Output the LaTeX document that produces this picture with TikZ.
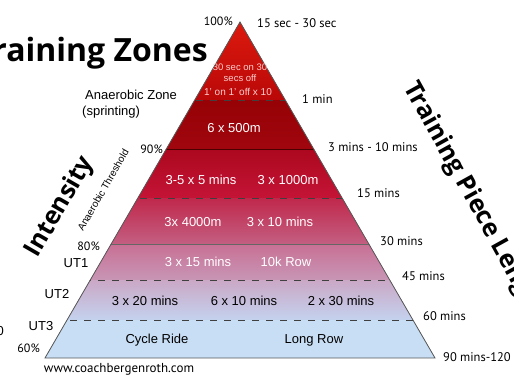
\documentclass[tikz,border=0pt]{standalone}
\usepackage{fontspec}
\setmainfont{Liberation Sans}
\newfontfamily\myriad{PT Sans}
\newfontfamily\headfont{Open Sans}

\definecolor{bandAtop}{RGB}{220,26,14}
\definecolor{bandAbot}{RGB}{185,8,8}
\definecolor{bandBtop}{RGB}{150,2,6}
\definecolor{bandBbot}{RGB}{160,6,14}
\definecolor{bandCtop}{RGB}{172,8,30}
\definecolor{bandCbot}{RGB}{196,20,55}
\definecolor{bandDtop}{RGB}{192,40,75}
\definecolor{bandDbot}{RGB}{195,95,130}
\definecolor{bandEtop}{RGB}{200,112,148}
\definecolor{bandEbot}{RGB}{200,150,182}
\definecolor{bandFtop}{RGB}{202,168,198}
\definecolor{bandFbot}{RGB}{196,210,238}
\definecolor{bandG}{RGB}{200,222,244}
\definecolor{paletext}{RGB}{250,205,205}

\begin{document}
\begin{tikzpicture}
  [x=1pt,y=-1pt,every node/.style={inner sep=0pt},
   inband/.style={text=white,font=\fontsize{13}{15}\selectfont},
   lowband/.style={text=black,font=\fontsize{13}{15}\selectfont},
   smallred/.style={text=paletext,font=\fontsize{9.5}{11}\selectfont,align=center},
   side/.style={anchor=west,font=\myriad\fontsize{12.5}{14}\selectfont},
   pct/.style={anchor=east,font=\myriad\fontsize{12}{14}\selectfont},
   zone/.style={font=\fontsize{13}{15}\selectfont},
   bigtitle/.style={font=\headfont\bfseries\fontsize{32}{36}\selectfont},
   sidetitle/.style={font=\headfont\bfseries\fontsize{25}{30}\selectfont},
   split/.style={draw=black!75,line width=.8pt,dash pattern=on 7pt off 7pt},
   seam/.style={line width=.9pt}]
  \useasboundingbox (0,0) rectangle (514,386);
  \coordinate (apex) at (240,22);
  \coordinate (bl) at (45,358);
  \coordinate (br) at (435,358);

  % pyramid bands
  \begin{scope}
    \clip (apex) -- (bl) -- (br) -- cycle;
    \foreach \ya/\yb/\ctop/\cbot in {22/100/bandAtop/bandAbot,100/149/bandBtop/bandBbot,
      149/198/bandCtop/bandCbot,198/244/bandDtop/bandDbot,244/280/bandEtop/bandEbot,
      280/320/bandFtop/bandFbot,320/358/bandG/bandG}
      \fill[top color=\ctop,bottom color=\cbot] (0,\ya) rectangle (514,\yb);
    \foreach \y in {100,198,280,320}
      \draw[split] (0,\y) -- (514,\y);
    \draw[seam,draw=black!70!red] (0,149) -- (514,149);
    \draw[seam,draw=black!60] (0,244) -- (514,244);
  \end{scope}
  \draw[black!65,line width=.8pt] (apex) -- (bl) -- (br) -- cycle;

  % inside the pyramid
  \node[smallred] (sprint) at (240,73) {30 sec on 30\\secs off};
  \node[smallred,font=\fontsize{10}{12}\selectfont] (oneon) at (238,92) {1' on 1' off x 10};
  \node[inband] (s500) at (234,128) {6 x 500m};
  \node[inband] (s35) at (201,180) {3-5 x 5 mins};
  \node[inband] (s1000) at (288,180) {3 x 1000m};
  \node[inband] (s4000) at (193,222) {3x 4000m};
  \node[inband] (s310) at (280,222) {3 x 10 mins};
  \node[inband] (s315) at (198,262) {3 x 15 mins};
  \node[inband] (s10k) at (286,262) {10k Row};
  \node[lowband] (s320) at (145,301) {3 x 20 mins};
  \node[lowband] (s610) at (244,301) {6 x 10 mins};
  \node[lowband] (s230) at (341,301) {2 x 30 mins};
  \node[lowband] (cycle) at (157,340) {Cycle Ride};
  \node[lowband] (longrow) at (314,340) {Long Row};

  % piece lengths
  \node[side] (t15s) at (257,23) {15 sec - 30 sec};
  \node[side] (t1m) at (302,99) {1 min};
  \node[side] (t3m) at (328,147) {3 mins - 10 mins};
  \node[side] (t15m) at (357,193) {15 mins};
  \node[side] (t30m) at (380,241) {30 mins};
  \node[side] (t45m) at (402,276) {45 mins};
  \node[side] (t60m) at (423,316) {60 mins};
  \node[side] (t90m) at (443,357) {90 mins-120};

  % intensities
  \node[pct] (p100) at (233,21) {100\%};
  \node[pct] (p90) at (163,149) {90\%};
  \node[pct] (p80) at (100,246) {80\%};
  \node[pct] (p60) at (40,348) {60\%};
  \node[zone] (ut1) at (76,263) {UT1};
  \node[zone] (ut2) at (57,294) {UT2};
  \node[zone] (ut3) at (41,326) {UT3};
  \node[zone,anchor=east] (cut) at (4,331) {0};
  \node[zone,anchor=west] (anzone) at (85,95) {Anaerobic Zone};
  \node[zone,anchor=west] (sprinting) at (82,112) {(sprinting)};
  \node[rotate=60,font=\fontsize{10}{12}\selectfont] (athr) at (103,190) {Anaerobic Threshold};

  % titles
  \node[bigtitle,anchor=base east] (title) at (208,61) {Training Zones};
  \node[sidetitle,rotate=60] (intens) at (60,207) {Intensity};
  \node[sidetitle,rotate=-61,anchor=west] (plen) at (409,84) {Training Piece Length};
  \node[font=\myriad\fontsize{13}{15}\selectfont] (web) at (119,369) {www.coachbergenroth.com};
\end{tikzpicture}
\end{document}
